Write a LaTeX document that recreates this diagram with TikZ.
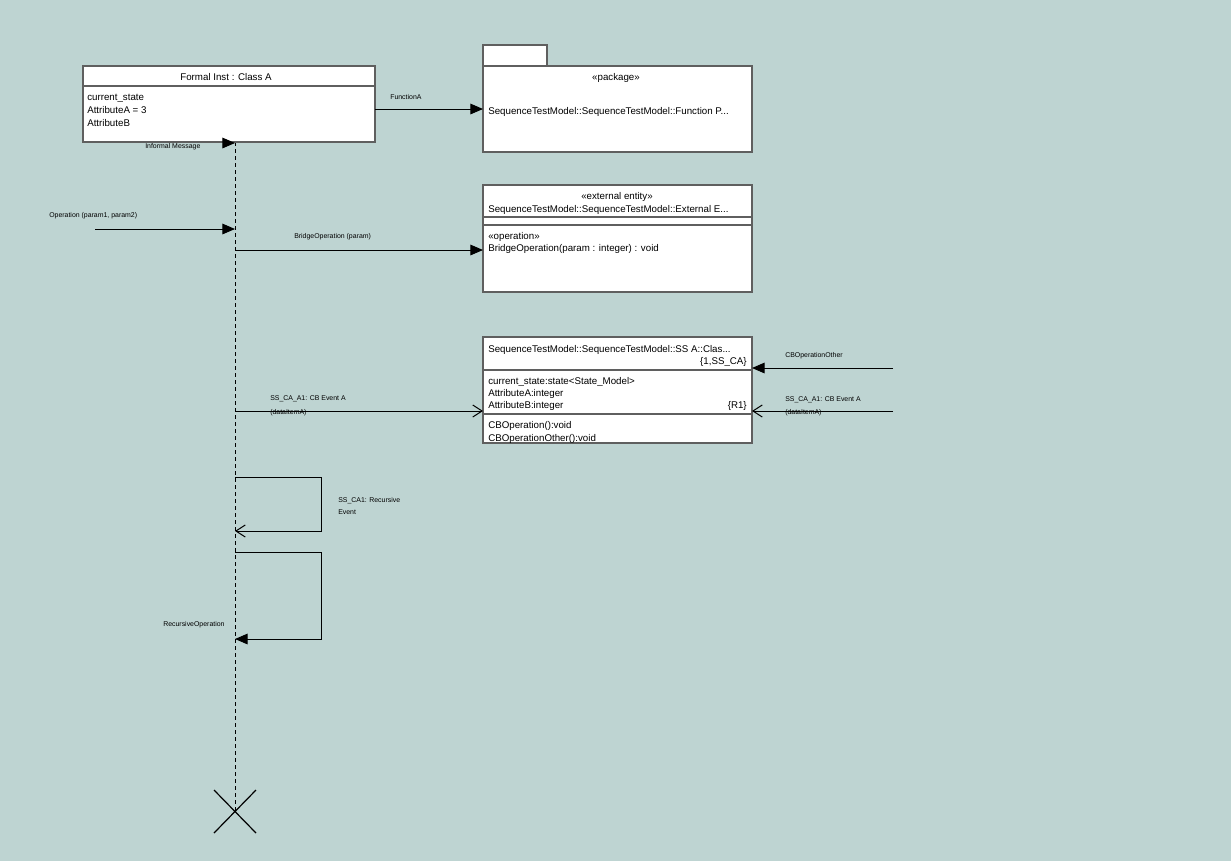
\documentclass[tikz,border=0pt]{standalone}
\usepackage{fontspec}
\setmainfont{Liberation Sans}
\usetikzlibrary{arrows.meta}
\definecolor{bg}{RGB}{190,212,210}
\definecolor{bord}{RGB}{95,95,95}
\begin{document}
\begin{tikzpicture}[x=0.75pt,y=-0.75pt,
 box/.style={draw=bord, fill=white, line width=0.9pt, inner sep=0, outer sep=0, anchor=north west},
 txt/.style={font=\fontsize{7.3}{9}\selectfont, inner sep=0, anchor=base west, yshift=-3.6pt},
 ctxt/.style={txt, anchor=base},
 rtxt/.style={txt, anchor=base east},
 lbl/.style={font=\fontsize{5.2}{6}\selectfont, inner sep=0, anchor=base west, yshift=-2.6pt},
 sep/.style={draw=bord, line width=0.9pt},
 msg/.style={draw, line width=0.75pt, -{Triangle[length=9.5pt,width=8pt]}},
 amsg/.style={draw, line width=0.75pt, -{Straight Barb[length=7pt,width=9pt]}},
 life/.style={draw, line width=0.75pt, dash pattern=on 3pt off 2.25pt},
]
\fill[bg] (0,0) rectangle (1231,861);
\useasboundingbox (0,0) rectangle (1231,861);

% lifeline
\coordinate (lltop) at (235,142);
\coordinate (llbot) at (235,812);
\draw[life] (lltop) -- (llbot);
\draw[line width=0.9pt] (214,790) -- (256,833) (256,790) -- (214,833);

% Class A instance
\node[box, minimum width=219pt, minimum height=57pt] (classA) at (83,66) {};
\draw[sep] (83,86) -- (375,86);
\node[ctxt] (classAt) at (226,76) {Formal Inst : Class A};
\node[txt] (a1) at (87,96) {current\_state};
\node[txt] (a2) at (87,109) {AttributeA = 3};
\node[txt] (a3) at (87,122) {AttributeB};

% package
\node[box, minimum width=48pt, minimum height=15.75pt] (pkgtab) at (483,45) {};
\node[box, minimum width=201.75pt, minimum height=64.5pt] (pkg) at (483,66) {};
\node[ctxt] (pkgst) at (616,76) {«package»};
\node[txt] (pkgname) at (488,110) {SequenceTestModel::SequenceTestModel::Function P...};

% external entity
\node[box, minimum width=201.75pt, minimum height=80.25pt] (ext) at (483,185) {};
\node[ctxt] (extst) at (617,195) {«external entity»};
\node[txt] (extname) at (488,208) {SequenceTestModel::SequenceTestModel::External E...};
\draw[sep] (483,217) -- (752,217);
\draw[sep] (483,225) -- (752,225);
\node[txt] (extop) at (488,235) {«operation»};
\node[txt] (extbr) at (488,247) {BridgeOperation(param : integer) : void};

% SS class
\node[box, minimum width=201.75pt, minimum height=79.5pt] (ssc) at (483,337) {};
\node[txt] (sscname) at (488,348) {SequenceTestModel::SequenceTestModel::SS A::Clas...};
\node[rtxt] (sscnum) at (747,360) {\{1,SS\_CA\}};
\draw[sep] (483,370) -- (752,370);
\node[txt] (s1) at (488,380) {current\_state:state<State\_Model>};
\node[txt] (s2) at (488,392) {AttributeA:integer};
\node[txt] (s3) at (488,404) {AttributeB:integer};
\node[rtxt] (sr1) at (747,404) {\{R1\}};
\draw[sep] (483,414) -- (752,414);
\node[txt] (s4) at (488,424) {CBOperation():void};
\node[txt] (s5) at (488,437) {CBOperationOther():void};

% messages
\coordinate (imsg) at (226,143);
\draw[msg] (imsg) -- (lltop |- imsg);
\node[lbl] (imsgl) at (145,145) {Informal Message};

\draw[msg] (classA.east |- pkg.west) -- (pkg.west);
\node[lbl] (fal) at (390,96) {FunctionA};

\coordinate (opstart) at (95,229);
\draw[msg] (opstart) -- (lltop |- opstart);
\node[lbl] (opl) at (49,214) {Operation (param1, param2)};

\coordinate (br) at (235,250);
\draw[msg] (br) -- (br -| ext.west);
\node[lbl] (brl) at (294,235) {BridgeOperation (param)};

\coordinate (ev) at (235,411);
\draw[amsg] (ev) -- (ev -| ssc.west);
\node[lbl] (evl1) at (270,397) {SS\_CA\_A1: CB Event A};
\node[lbl] (evl2) at (270,411) {(dataItemA)};

\coordinate (cbo) at (893,368);
\draw[msg] (cbo) -- (cbo -| ssc.east);
\node[lbl] (cbol) at (785,354) {CBOperationOther};

\coordinate (ev2) at (893,411);
\draw[amsg] (ev2) -- (ev2 -| ssc.east);
\node[lbl] (ev2l1) at (785,398) {SS\_CA\_A1: CB Event A};
\node[lbl] (ev2l2) at (785,411) {(dataItemA)};

\coordinate (r1) at (235,477);
\coordinate (r2) at (235,531);
\draw[amsg] (r1) -- (321,477) -- (321,531) -- (r2);
\node[lbl] (rl1) at (338,499) {SS\_CA1: Recursive};
\node[lbl] (rl2) at (338,511) {Event};

\coordinate (q1) at (235,552);
\coordinate (q2) at (235,639);
\draw[msg] (q1) -- (321,552) -- (321,639) -- (q2);
\node[lbl] (ql) at (163,623) {RecursiveOperation};
\end{tikzpicture}
\end{document}
